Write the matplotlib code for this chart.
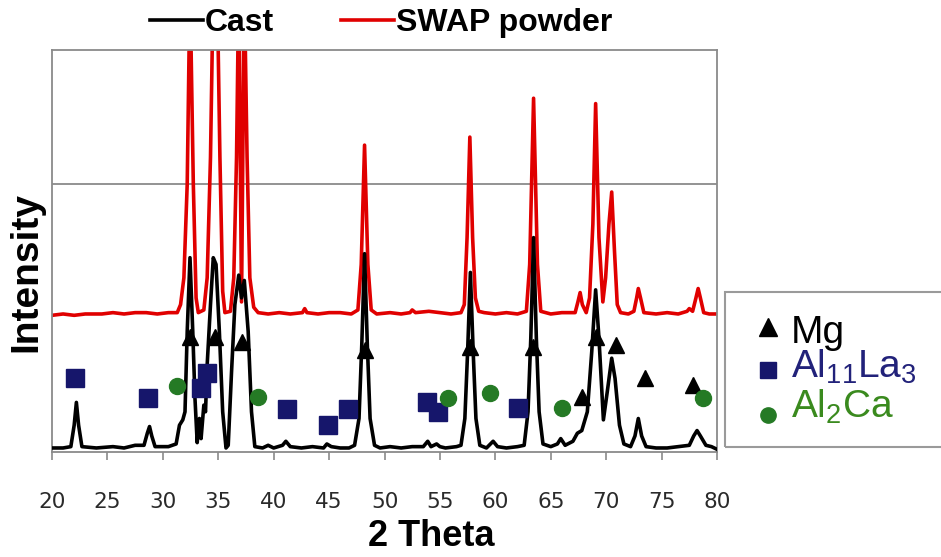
import matplotlib.pyplot as plt
from matplotlib.lines import Line2D
from matplotlib.patches import Rectangle

# XRD traces, (2 theta, intensity) vertices; SWAP powder sits on a +1 offset
cast_2theta = [20.0, 21.0, 21.7, 22.0, 22.2, 22.4, 22.7, 24.0, 25.5, 26.5, 27.5, 28.3, 28.6, 28.8,
               29.0, 29.3, 30.5, 31.2, 31.5, 31.8, 32.0, 32.2, 32.45, 32.7, 32.9, 33.1, 33.3, 33.45,
               33.7, 33.85, 34.0, 34.3, 34.55, 34.8, 35.1, 35.4, 35.7, 35.9, 36.2, 36.5, 36.85, 37.1,
               37.35, 37.7, 38.0, 38.3, 39.0, 39.5, 40.0, 40.8, 41.1, 41.5, 42.5, 43.5, 44.5, 44.8,
               45.2, 46.0, 46.8, 47.3, 47.7, 47.95, 48.2, 48.45, 48.7, 49.1, 49.6, 50.5, 51.5, 52.5,
               53.5, 53.9, 54.2, 54.7, 55.0, 55.5, 56.5, 56.9, 57.25, 57.5, 57.75, 58.0, 58.25, 58.6,
               59.2, 59.8, 60.2, 61.0, 62.0, 62.6, 62.95, 63.2, 63.45, 63.7, 63.95, 64.3, 65.0, 65.6,
               65.9, 66.3, 67.0, 67.4, 67.8, 68.3, 68.7, 69.05, 69.35, 69.75, 70.1, 70.5, 70.8, 71.2,
               71.6, 72.2, 72.6, 72.9, 73.2, 73.6, 74.5, 75.5, 76.5, 77.5, 77.9, 78.2, 78.5, 79.0,
               79.5, 80.0]
cast_int = [0.03, 0.03, 0.04, 0.20, 0.37, 0.20, 0.04, 0.03, 0.04, 0.03, 0.05, 0.05, 0.14, 0.19,
            0.12, 0.04, 0.04, 0.06, 0.20, 0.24, 0.30, 0.90, 1.45, 0.90, 0.40, 0.07, 0.25, 0.10,
            0.35, 0.30, 0.65, 1.10, 1.45, 1.40, 0.90, 0.30, 0.03, 0.05, 0.60, 1.10, 1.32, 1.15,
            1.28, 0.90, 0.30, 0.04, 0.03, 0.05, 0.03, 0.05, 0.08, 0.04, 0.03, 0.04, 0.03, 0.06,
            0.04, 0.03, 0.03, 0.05, 0.25, 0.80, 1.48, 0.80, 0.25, 0.05, 0.03, 0.04, 0.03, 0.04,
            0.04, 0.08, 0.04, 0.06, 0.04, 0.03, 0.04, 0.05, 0.25, 0.75, 1.34, 0.75, 0.25, 0.05,
            0.03, 0.08, 0.04, 0.03, 0.04, 0.05, 0.30, 0.85, 1.60, 0.85, 0.30, 0.06, 0.04, 0.06,
            0.10, 0.05, 0.08, 0.14, 0.16, 0.30, 0.75, 1.21, 0.85, 0.24, 0.45, 0.70, 0.55, 0.20,
            0.06, 0.04, 0.12, 0.25, 0.12, 0.04, 0.03, 0.03, 0.04, 0.05, 0.12, 0.16, 0.12, 0.05,
            0.04, 0.02]

swap_2theta = [20.0, 21.0, 22.0, 23.0, 24.5, 25.5, 26.5, 27.5, 28.5, 29.5, 30.5, 31.3, 31.6, 31.9,
               32.2, 32.45, 32.75, 33.0, 33.2, 33.7, 34.0, 34.3, 34.55, 34.9, 35.15, 35.4, 35.6,
               36.1, 36.4, 36.65, 36.85, 37.1, 37.35, 37.6, 37.85, 38.2, 38.6, 39.5, 40.5, 41.5,
               42.6, 42.8, 43.0, 44.0, 45.0, 46.0, 47.0, 47.6, 47.9, 48.2, 48.5, 48.8, 49.3, 50.5,
               51.5, 52.3, 52.5, 52.8, 54.0, 55.0, 56.0, 56.9, 57.2, 57.45, 57.7, 57.95, 58.2, 58.5,
               59.0, 60.0, 61.0, 62.0, 62.8, 63.1, 63.45, 63.8, 64.1, 65.0, 66.0, 67.2, 67.45, 67.65,
               67.85, 68.2, 68.5, 68.8, 69.05, 69.35, 69.7, 69.95, 70.25, 70.5, 70.75, 71.0, 71.3,
               72.0, 72.5, 72.75, 72.9, 73.1, 73.4, 74.5, 75.5, 76.5, 77.3, 77.5, 77.8, 78.1, 78.3,
               78.5, 78.8, 79.3, 80.0]
swap_int = [1.02, 1.03, 1.02, 1.03, 1.03, 1.04, 1.03, 1.04, 1.04, 1.03, 1.04, 1.04, 1.10, 1.30,
            2.00, 3.50, 2.00, 1.15, 1.04, 1.06, 1.30, 2.20, 3.50, 3.50, 2.20, 1.20, 1.04,
            1.05, 1.30, 2.20, 3.50, 1.12, 3.50, 2.20, 1.30, 1.08, 1.04, 1.03, 1.04, 1.03,
            1.04, 1.07, 1.04, 1.03, 1.04, 1.04, 1.03, 1.06, 1.40, 2.29, 1.40, 1.06, 1.03, 1.04,
            1.03, 1.04, 1.06, 1.04, 1.05, 1.04, 1.03, 1.04, 1.10, 1.60, 2.35, 1.60, 1.15, 1.05,
            1.04, 1.03, 1.04, 1.03, 1.05, 1.40, 2.64, 1.40, 1.05, 1.03, 1.04, 1.04, 1.12, 1.19,
            1.10, 1.04, 1.15, 1.70, 2.60, 1.60, 1.12, 1.30, 1.70, 1.94, 1.50, 1.10, 1.04,
            1.03, 1.05, 1.15, 1.22, 1.15, 1.04, 1.03, 1.04, 1.03, 1.05, 1.07, 1.05, 1.15, 1.22,
            1.15, 1.04, 1.03, 1.03]

# phase markers
mg_x = [32.45, 34.7, 37.15, 48.2, 57.7, 63.4, 67.8, 69.1, 70.9, 73.5, 77.8]
mg_y = [0.86, 0.86, 0.82, 0.76, 0.78, 0.78, 0.41, 0.86, 0.80, 0.55, 0.50]
la_x = [22.1, 28.7, 33.4, 34.0, 41.2, 44.9, 46.7, 53.8, 54.8, 62.05]
la_y = [0.55, 0.40, 0.48, 0.59, 0.32, 0.20, 0.32, 0.37, 0.30, 0.33]
ca_x = [31.3, 38.6, 55.7, 59.5, 66.0, 78.7]
ca_y = [0.49, 0.41, 0.40, 0.44, 0.33, 0.40]

xticks = list(range(20, 81, 5))

W, H = 941, 557
fig = plt.figure(figsize=(W / 100, H / 100), dpi=100)
ax = fig.add_axes([52 / W, 1 - 452 / H, (717 - 52) / W, (452 - 50) / H])

red, = ax.plot(swap_2theta, swap_int, color='#e00000', lw=2.6, zorder=2,
               solid_joinstyle='round', label='SWAP powder')
black, = ax.plot(cast_2theta, cast_int, color='black', lw=2.6, zorder=3,
                 solid_joinstyle='round', label='Cast')
ax.plot(mg_x, mg_y, '^', color='black', ms=12, zorder=4)
ax.plot(la_x, la_y, 's', color='#16166b', ms=12.5, zorder=5)
ax.plot(ca_x, ca_y, 'o', color='#257a25', ms=11.5, zorder=6)

ax.axhline(2, color='#8a8a8a', lw=1.3, zorder=1)
ax.set_xlim(20, 80)
ax.set_ylim(0, 3)
ax.set_yticks([])
ax.set_xticks(xticks)
ax.tick_params(axis='x', direction='out', length=6, width=1.2, color='#8a8a8a',
               labelsize=15.5, labelcolor='#2a2a2a', pad=23)
for s in ax.spines.values():
    s.set_color('#8a8a8a')
    s.set_linewidth(1.3)

fig.text(26 / W, 1 - 272 / H, 'Intensity', rotation=90, ha='center', va='center',
         fontsize=28, fontweight='bold', family='Liberation Sans')
fig.text(431 / W, 1 - 536 / H, '2 Theta', ha='center', va='center',
         fontsize=26, fontweight='bold', family='Liberation Sans')

fig.legend(handles=[black, red], loc='center', bbox_to_anchor=(381 / W, 1 - 23 / H),
           ncol=2, frameon=False, handlelength=1.67, handletextpad=0.05, columnspacing=2.1,
           prop={'family': 'Liberation Sans', 'weight': 'bold', 'size': 23})

# phase key box at right
fig.add_artist(Rectangle((725 / W, 1 - 447 / H), 0.4, 155 / H, transform=fig.transFigure,
                         facecolor='none', edgecolor='#9a9a9a', lw=1.5))
keys = [('^', 'black', 13, 327, 'Mg', 'black', 343),
        ('s', '#16166b', 11, 370, r'Al$_\mathregular{11}$La$_\mathregular{3}$', '#22227a', 378),
        ('o', '#257a25', 11, 415, r'Al$_\mathregular{2}$Ca', '#3a8a1e', 418)]
for m, mc, ms, my, txt, tc, ty in keys:
    fig.add_artist(Line2D([768 / W], [1 - my / H], transform=fig.transFigure,
                          marker=m, color=mc, ms=ms, linestyle='none'))
    fig.text(791 / W, 1 - ty / H, txt, color=tc, fontsize=28, va='baseline',
             family='Liberation Sans')

fig.savefig('out.png', dpi=100, facecolor='white')
